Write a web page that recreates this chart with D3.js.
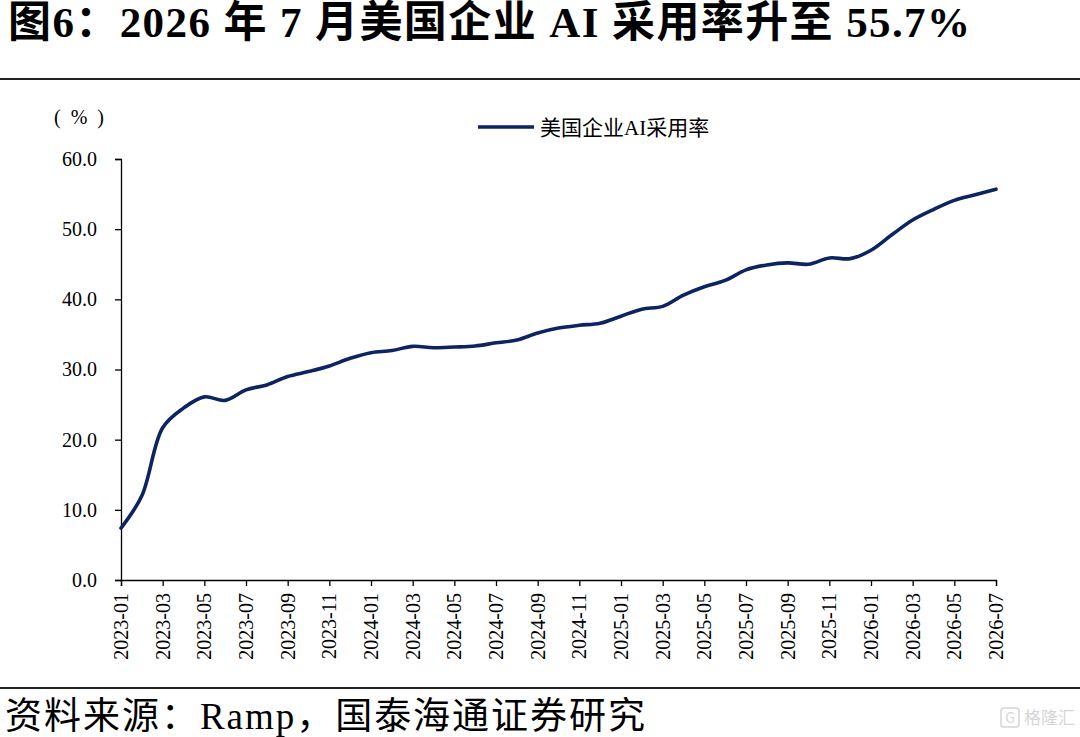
<!DOCTYPE html>
<html>
<head>
<meta charset="utf-8">
<script src="https://cdn.jsdelivr.net/npm/d3@7"></script>
<style>
  body { margin: 0; background: #fff; }
  svg { display: block; }
</style>
</head>
<body>
<div id="chart"></div>
<script>
// monthly values, 2023-01 .. 2026-07
const months = [
  "2023-01","2023-02","2023-03","2023-04","2023-05","2023-06","2023-07","2023-08","2023-09","2023-10","2023-11","2023-12",
  "2024-01","2024-02","2024-03","2024-04","2024-05","2024-06","2024-07","2024-08","2024-09","2024-10","2024-11","2024-12",
  "2025-01","2025-02","2025-03","2025-04","2025-05","2025-06","2025-07","2025-08","2025-09","2025-10","2025-11","2025-12",
  "2026-01","2026-02","2026-03","2026-04","2026-05","2026-06","2026-07"
]
const adoption = [
  7.4, 12.0, 21.7, 24.5, 26.1, 25.6, 27.1, 27.8, 29.0, 29.7, 30.5, 31.6,
  32.4, 32.7, 33.3, 33.1, 33.2, 33.35, 33.8, 34.2, 35.2, 35.9, 36.3, 36.6,
  37.6, 38.6, 39.0, 40.6, 41.8, 42.7, 44.2, 44.9, 45.2, 45.0, 45.9, 45.8,
  47.0, 49.2, 51.3, 52.8, 54.1, 54.9, 55.7
]
const yTicks = [0, 10, 20, 30, 40, 50, 60]
const seriesName = "美国企业AI采用率"

const W = 1080, H = 737
const margins = {top: 159, right: 84, bottom: 157, left: 121}
const width = W - margins.left - margins.right
const height = H - margins.top - margins.bottom

const serif = "'Liberation Serif', 'Times New Roman', 'Noto Sans CJK SC', serif"
const lineColor = '#0c2461'

const svg = d3.select('#chart').append('svg')
    .attr('width', W)
    .attr('height', H)

// title
svg.append('text')
    .attr('x', 8)
    .attr('y', 37)
    .attr('font-family', serif)
    .attr('font-weight', 'bold')
    .attr('font-size', 43)
    .attr('fill', '#000')
    .attr('textLength', 962)
    .attr('lengthAdjust', 'spacing')
    .text('图6：2026 年 7 月美国企业 AI 采用率升至 55.7%')

svg.append('line')
    .attr('x1', 0).attr('x2', W)
    .attr('y1', 79).attr('y2', 79)
    .attr('stroke', '#222').attr('stroke-width', 2)

svg.append('line')
    .attr('x1', 0).attr('x2', W)
    .attr('y1', 688).attr('y2', 688)
    .attr('stroke', '#222').attr('stroke-width', 2)

// source
svg.append('text')
    .attr('x', 5)
    .attr('y', 729)
    .attr('font-family', serif)
    .attr('font-size', 37)
    .attr('fill', '#000')
    .attr('textLength', 640)
    .attr('lengthAdjust', 'spacing')
    .text('资料来源：Ramp，国泰海通证券研究')

// watermark
const wm = svg.append('g').attr('transform', 'translate(1001,708)').attr('opacity', 0.35)
wm.append('rect')
    .attr('x', 0).attr('y', 0).attr('width', 18).attr('height', 19).attr('rx', 3)
    .attr('fill', 'none').attr('stroke', '#888').attr('stroke-width', 1.5)
wm.append('text')
    .attr('x', 9).attr('y', 15).attr('text-anchor', 'middle')
    .attr('font-family', "'Noto Sans CJK SC'").attr('font-size', 14).attr('fill', '#888')
    .text('G')
wm.append('text')
    .attr('x', 23).attr('y', 16)
    .attr('font-family', "'Noto Sans CJK SC'").attr('font-size', 17).attr('fill', '#888')
    .text('格隆汇')

const g = svg.append('g').attr('transform', `translate(${margins.left},${margins.top})`)

const x = d3.scalePoint().domain(months).range([0, width])
const y = d3.scaleLinear().domain([0, 60]).range([height, 0])

// y axis
const yAxis = g.append('g')
    .call(d3.axisLeft(y).tickValues(yTicks).tickFormat(d3.format('.1f')).tickSize(6).tickPadding(18))
yAxis.select('.domain').attr('stroke', '#000').attr('stroke-width', 1.3)
yAxis.selectAll('.tick line').attr('stroke', '#000').attr('stroke-width', 1.3)
yAxis.selectAll('.tick text')
    .attr('font-family', serif).attr('font-size', 20).attr('fill', '#000')

// x axis
const xAxis = g.append('g')
    .attr('transform', `translate(0,${height})`)
    .call(d3.axisBottom(x).tickValues(months.filter((d, i) => i % 2 === 0)).tickSize(6))
xAxis.select('.domain').attr('stroke', '#000').attr('stroke-width', 1.3)
xAxis.selectAll('.tick line').attr('stroke', '#000').attr('stroke-width', 1.3)
xAxis.selectAll('.tick text')
    .attr('font-family', serif).attr('font-size', 20).attr('fill', '#000')
    .attr('transform', 'rotate(-90)')
    .attr('text-anchor', 'end')
    .attr('dy', '0.33em')
    .attr('x', -13)
    .attr('y', 0)

// unit label
svg.append('text')
    .attr('x', 79).attr('y', 124)
    .attr('text-anchor', 'middle')
    .attr('font-family', serif).attr('font-size', 20).attr('fill', '#000')
    .attr('xml:space', 'preserve')
    .text('(  %  )')

// line
const line = d3.line()
    .x((d, i) => x(months[i]))
    .y(d => y(d))
    .curve(d3.curveCatmullRom.alpha(0.5))

g.append('path')
    .datum(adoption)
    .attr('d', line)
    .attr('fill', 'none')
    .attr('stroke', lineColor)
    .attr('stroke-width', 3.6)
    .attr('stroke-linejoin', 'round')
    .attr('stroke-linecap', 'round')

// legend
const legend = svg.append('g').attr('transform', 'translate(478,127)')
legend.append('line')
    .attr('x1', 0).attr('x2', 56).attr('y1', 0).attr('y2', 0)
    .attr('stroke', lineColor).attr('stroke-width', 3.6)
legend.append('text')
    .attr('x', 62).attr('y', 8)
    .attr('font-family', serif).attr('font-size', 21).attr('fill', '#000')
    .text(seriesName)
</script>
</body>
</html>
